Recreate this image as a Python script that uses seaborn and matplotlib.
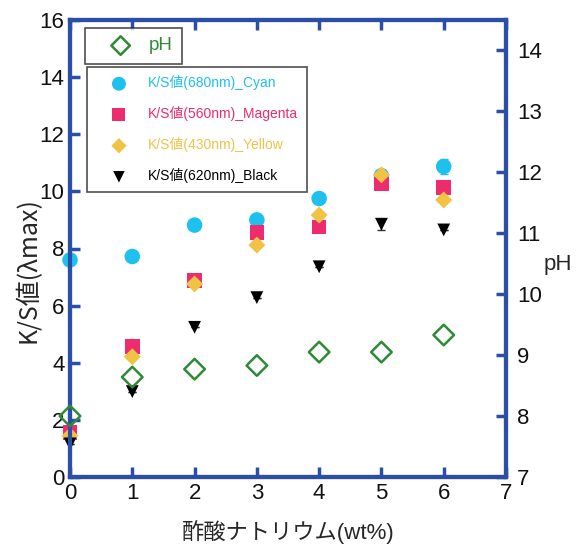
import matplotlib
matplotlib.use("Agg")
import matplotlib.pyplot as plt
import seaborn as sns
import pandas as pd

# Sodium acetate concentration (wt%)
conc = [0, 1, 2, 3, 4, 5, 6]

# K/S values at the absorption maximum for each ink colour
ks_cyan = [7.60, 7.72, 8.82, 9.00, 9.75, 10.55, 10.87]
ks_magenta = [1.55, 4.56, 6.87, 8.57, 8.76, 10.26, 10.13]
ks_yellow = [1.44, 4.21, 6.76, 8.12, 9.17, 10.58, 9.70]
ks_black = [1.16, 2.99, 5.24, 6.28, 7.36, 8.85, 8.65]

# small standard deviations
err_cyan = [0, 0, 0, 0, 0, 0.12, 0.25]
err_black = [0, 0, 0, 0, 0, 0.2, 0]

# pH of the printing paste
ph = [8.00, 8.64, 8.77, 8.83, 9.05, 9.05, 9.33]

labels = ["K/S値(680nm)_Cyan", "K/S値(560nm)_Magenta",
          "K/S値(430nm)_Yellow", "K/S値(620nm)_Black"]
colors = ["#1ec0ee", "#ee2b6c", "#f0c345", "#000000"]
markers = ["o", "s", "D", "v"]
sizes = [125, 110, 75, 85]
ph_color = "#2f8a36"
spine_color = "#2b4ea6"

sns.set_theme(style="white")
plt.rcParams["font.family"] = ["Liberation Sans", "Noto Sans CJK JP", "DejaVu Sans"]

df = pd.DataFrame({
    "conc": conc * 4,
    "ks": ks_cyan + ks_magenta + ks_yellow + ks_black,
    "series": sum([[l] * len(conc) for l in labels], []),
})

fig = plt.figure(figsize=(5.87, 5.46), dpi=100)
ax = fig.add_axes([70 / 587, 1 - 477 / 546, (506 - 70) / 587, (477 - 20) / 546])

for lab, col, mk, sz in zip(labels, colors, markers, sizes):
    sub = df[df["series"] == lab]
    sns.scatterplot(data=sub, x="conc", y="ks", ax=ax, color=col, marker=mk,
                    s=sz, edgecolor="none", label=lab, zorder=3, clip_on=False)

ax.errorbar(conc, ks_cyan, yerr=err_cyan, fmt="none", ecolor=colors[0],
            elinewidth=1, capsize=3, zorder=2)
ax.errorbar(conc, ks_black, yerr=err_black, fmt="none", ecolor="#333333",
            elinewidth=1, capsize=3, zorder=2)

ax.set_xlim(0, 7)
ax.set_ylim(0, 16)
ax.set_xticks(range(0, 8))
ax.set_yticks(range(0, 17, 2))
ax.set_xlabel("酢酸ナトリウム(wt%)", fontsize=16, labelpad=12)
ax.set_ylabel("K/S値(λmax)", fontsize=18,
              family=["Noto Sans CJK JP", "DejaVu Sans"])
ax.yaxis.set_label_coords(-0.066, 0.453)

ax2 = ax.twinx()
sns.scatterplot(x=conc, y=ph, ax=ax2, marker="D", s=110, facecolor="none",
                edgecolor=ph_color, linewidth=1.8, label="pH", zorder=4,
                clip_on=False)
ax2.set_ylim(7, 14.5)
ax2.set_yticks(range(7, 15))
ax2.set_ylabel("pH", fontsize=16, rotation=0, ha="left", va="center")
ax2.yaxis.set_label_coords(1.087, 0.466)

for a in (ax, ax2):
    for sp in a.spines.values():
        sp.set_color(spine_color)
        sp.set_linewidth(3)
    a.grid(False)

tick_kw = dict(direction="in", length=7, width=2.5, color=spine_color,
               labelsize=16, labelcolor="#111111")
ax.xaxis.set_tick_params(which="major", bottom=True, top=True,
                         labelbottom=True, pad=4, **tick_kw)
ax.yaxis.set_tick_params(which="major", left=True, right=False, pad=4, **tick_kw)
ax2.yaxis.set_tick_params(which="major", right=True, left=False,
                          labelright=True, pad=8, **tick_kw)


def to_fig(px, py):
    return px / 587, 1 - py / 546


leg1 = ax.legend(loc="upper left", bbox_to_anchor=to_fig(87, 67),
                 bbox_transform=fig.transFigure, frameon=True, fancybox=False,
                 edgecolor="#222222", fontsize=10, labelspacing=1.15,
                 handlelength=3.4, handletextpad=0.4, borderpad=0.6,
                 borderaxespad=0, markerscale=0.9)
leg1.get_frame().set_linewidth(1.2)
for txt, col in zip(leg1.get_texts(), colors):
    txt.set_color(col)

leg2 = ax2.legend(loc="upper left", bbox_to_anchor=to_fig(85, 28),
                  bbox_transform=fig.transFigure, frameon=True, fancybox=False,
                  edgecolor="#222222", fontsize=13.5, handlelength=2.8,
                  handletextpad=0.1, borderpad=0.5, borderaxespad=0,
                  markerscale=0.9)
leg2.get_frame().set_linewidth(1.2)
for txt in leg2.get_texts():
    txt.set_color(ph_color)

fig.savefig("out.png", dpi=100)
